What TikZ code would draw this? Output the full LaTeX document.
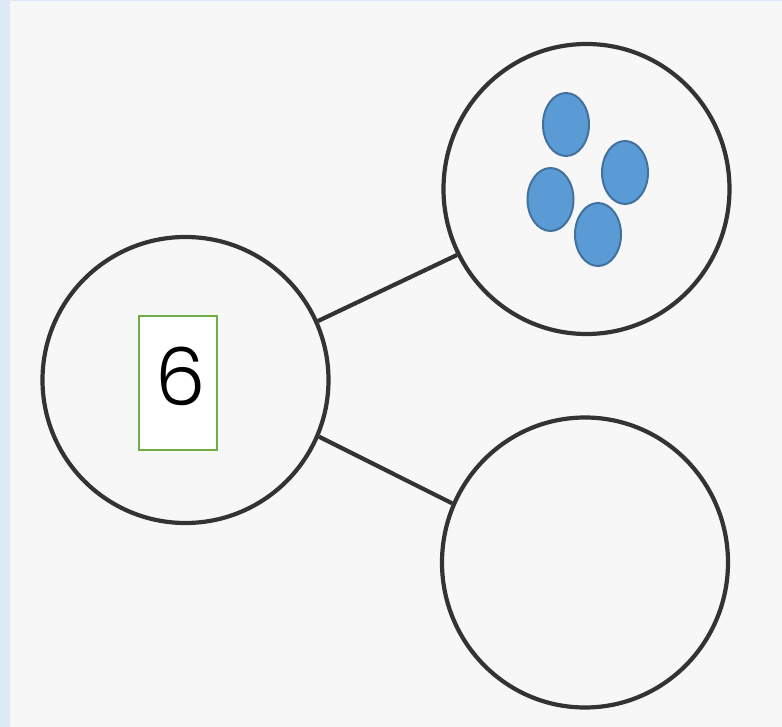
\documentclass[tikz,border=0pt]{standalone}
\usepackage{fontspec}
\setmainfont{Poppins}
\newfontfamily\numfont{Poppins Light}
\usetikzlibrary{shapes.geometric}
\definecolor{bg}{HTML}{F7F7F7}
\definecolor{strip}{HTML}{DEE9F5}
\definecolor{ring}{HTML}{333333}
\definecolor{boxgreen}{HTML}{70AD47}
\definecolor{dotfill}{HTML}{5B9BD5}
\definecolor{dotline}{HTML}{41719C}
\tikzset{
  ring/.style={ellipse, draw=ring, line width=4.2pt, inner sep=0pt, minimum width=286pt, minimum height=290pt},
  link/.style={draw=ring, line width=4.2pt},
  dot/.style={ellipse, draw=dotline, fill=dotfill, line width=2pt, inner sep=0pt, minimum width=46pt, minimum height=63pt},
  numbox/.style={draw=boxgreen, fill=white, line width=1.8pt, minimum width=78pt, minimum height=134pt, inner sep=0pt}
}
\begin{document}
\begin{tikzpicture}[x=1pt,y=-1pt]
\useasboundingbox (0,0) rectangle (782,727);
\fill[bg] (0,0) rectangle (782,727);
\fill[strip] (0,0) rectangle (9.5,727);
\fill[strip] (0,0) rectangle (782,1.5);
\node[ring, minimum height=286pt] (L) at (185.5,380) {};
\node[ring] (T) at (586.5,189) {};
\node[ring] (B) at (585,562.5) {};
\draw[link] (L.24.7) -- (T.207.8);
\draw[link] (L.-23.6) -- (B.156.8);
\node[numbox] (n) at (178,383) {};
\node[inner sep=0pt] (six) at (181,376) {\numfont\fontsize{80}{80}\selectfont 6};
\node[dot] (d1) at (566,124.5) {};
\node[dot] (d2) at (625,172.5) {};
\node[dot] (d3) at (550.5,199.5) {};
\node[dot] (d4) at (598,234.5) {};
\end{tikzpicture}
\end{document}
